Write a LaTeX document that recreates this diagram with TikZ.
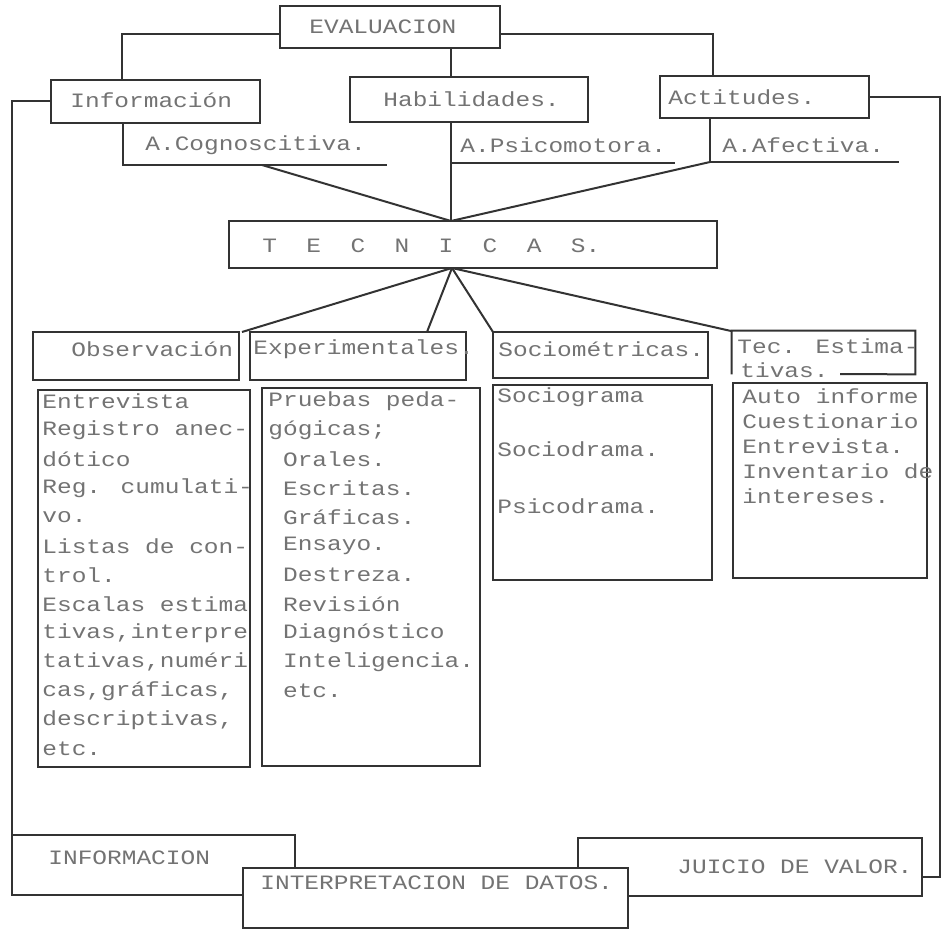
\documentclass[tikz,border=0pt]{standalone}
\usepackage{fontspec}
\newfontfamily\tw[FakeStretch=1.2]{Liberation Mono}
\usetikzlibrary{fit}
\definecolor{ink}{gray}{0.2}
\definecolor{typ}{gray}{0.45}
\begin{document}
\begin{tikzpicture}[x=0.5pt,y=-0.5pt,
  ln/.style={draw=ink,line width=1pt},
  bx/.style={ln,inner sep=0pt,fill=white},
  tx/.style={text=typ,font=\tw\fontsize{10.2}{12}\selectfont,inner sep=0pt,anchor=west}]
\useasboundingbox (0,0) rectangle (949,931);

% named junction points
\coordinate (tecin) at (451,221);
\coordinate (tecout) at (452,268);
\coordinate (evL) at (122,34);
\coordinate (evR) at (713,34);
\coordinate (cogA) at (123,165);
\coordinate (cogB) at (387,165);
\coordinate (cogC) at (262,165);
\coordinate (psiA) at (451,163);
\coordinate (psiB) at (675,163);
\coordinate (afA) at (710,162);
\coordinate (afB) at (899,162);
\coordinate (lftTop) at (12,101);
\coordinate (rgtTop) at (940,97);
\coordinate (rgtBot) at (940,877);
\coordinate (j1) at (242,332);
\coordinate (j2) at (427,332);
\coordinate (j3) at (493,332);
\coordinate (j4) at (731,331);

% connectors (drawn first, boxes cover them)
\draw[ln] (280,34) -- (evL) -- (122,80);
\draw[ln] (500,34) -- (evR) -- (713,76);
\draw[ln] (451,48) -- (tecin);
\draw[ln] (123,123) -- (cogA) -- (cogB);
\draw[ln] (psiA) -- (psiB);
\draw[ln] (710,118) -- (afA) -- (afB);
\draw[ln] (cogC) -- (tecin);
\draw[ln] (afA) -- (tecin);
\draw[ln] (tecout) -- (j1);
\draw[ln] (tecout) -- (j2);
\draw[ln] (tecout) -- (j3);
\draw[ln] (tecout) -- (j4);
\draw[ln] (51,101) -- (lftTop) -- (12,895);
\draw[ln] (869,97) -- (rgtTop) -- (rgtBot) -- (922,877);

% boxes
\node[bx,fit={(280,6) (500,48)}] (eval) {};
\node[bx,fit={(51,80) (260,123)}] (info) {};
\node[bx,fit={(350,77) (588,122)}] (hab) {};
\node[bx,fit={(660,76) (869,118)}] (act) {};
\node[bx,fit={(229,221) (717,268)}] (tec) {};
\node[bx,fit={(33,332) (239,380)}] (obs) {};
\node[bx,fit={(250,332) (466,380)}] (exp) {};
\node[bx,fit={(493,332) (708,378)}] (soc) {};
\node[inner sep=0pt,fit={(732,331) (915,374)}] (est) {};
\draw[ln] (est.south west) -- (est.north west) -- (est.north east) -- (est.south east) -- (840,374);

\node[bx,fit={(38,390) (250,767)}] (obsl) {};
\node[bx,fit={(262,388) (480,766)}] (expl) {};
\node[bx,fit={(493,385) (712,580)}] (socl) {};
\node[bx,fit={(733,383) (927,578)}] (estl) {};

\node[bx,fit={(12,835) (295,895)}] (inf) {};
\node[bx,fit={(578,838) (922,896)}] (jv) {};
\node[bx,fit={(243,868) (628,928)}] (interp) {};

% texts
\node[tx] (tEval) at (309,27) {EVALUACION};
\node[tx] (tInfo) at (70,100) {Información};
\node[tx] (tHab) at (383,99) {Habilidades.};
\node[tx] (tAct) at (668,97) {Actitudes.};
\node[tx] (tCog) at (145,145) {A.Cognoscitiva.};
\node[tx] (tPsi) at (460,145) {A.Psicomotora.};
\node[tx] (tAf) at (722,145) {A.Afectiva.};
\node[tx] (tTec) at (262,246) {T\ \ E\ \ C\ \ N\ \ I\ \ C\ \ A\ \ S.};
\node[tx] (tObs) at (71,349) {Observación};
\node[tx] (tExp) at (253,349) {Experimentales.};
\node[tx] (tSoc) at (498,349) {Sociométricas.};
\node[tx] (tEst) at (737,346) {Tec. Estima-};
\node[tx] (tEst2) at (740,370) {tivas.};

\foreach \t [count=\i from 0] in {Entrevista,Registro anec-,dótico,Reg. cumulati-,vo.,Listas de con-,trol.,Escalas estima,{tivas,interpre},{tativas,numéri},{cas,gráficas,},{descriptivas,},etc.}
  \node[tx,name=lo\i] at (42,401+29*\i) {\t};
\foreach \t [count=\i from 0] in {Pruebas peda-,gógicas;,\ Orales.,\ Escritas.,\ Gráficas.,\ Ensayo.,\ Destreza.,\ Revisión,\ Diagnóstico,\ Inteligencia.,\ etc.}
  \node[tx,name=le\i] at (268,401+29*\i) {\t};
\node[tx] (lSoc1) at (497,397) {Sociograma};
\node[tx] (lSoc2) at (497,449) {Sociodrama.};
\node[tx] (lSoc3) at (497,506) {Psicodrama.};
\foreach \t [count=\i from 0] in {Auto informe,Cuestionario,Entrevista.,Inventario de,intereses.}
  \node[tx,name=ls\i] at (742,396+25*\i) {\t};

\node[tx] (tInf) at (48,858) {INFORMACION};
\node[tx] (tInt) at (260,883) {INTERPRETACION DE DATOS.};
\node[tx] (tJv) at (677,867) {JUICIO DE VALOR.};
\end{tikzpicture}
\end{document}
